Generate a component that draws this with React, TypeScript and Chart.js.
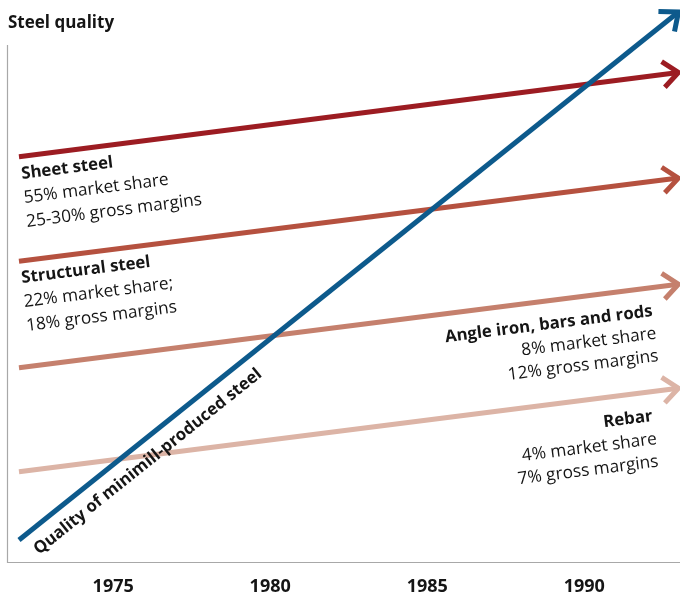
import React, { useEffect, useRef } from "react";
import { Chart, registerables } from "chart.js";

Chart.register(...registerables);

// ---- data ----
const years = [1972, 1993];
const tickYears = [1975, 1980, 1985, 1990];
const minimillQuality = [4.0, 100];
const sheetSteel = [73.7, 89.0];
const structuralSteel = [54.7, 69.8];
const angleIron = [35.3, 50.5];
const rebar = [16.4, 31.6];

const seriesNames = [
  "Quality of minimill-produced steel",
  "Sheet steel",
  "Structural steel",
  "Angle iron, bars and rods",
  "Rebar",
];
const seriesColors = ["#0d5a8c", "#9c1c22", "#b5513f", "#c5806d", "#dcb4a6"];

const sheetNotes = ["55% market share", "25-30% gross margins"];
const structuralNotes = ["22% market share;", "18% gross margins"];
const angleNotes = ["8% market share", "12% gross margins"];
const rebarNotes = ["4% market share", "7% gross margins"];

const titleText = "Steel quality";
const FONT = "'Open Sans', 'Noto Sans', sans-serif";
const TEXT_COLOR = "#151515";
const BOLD_SIZE = 16.8;
const REG_SIZE = 17.3;

type Line = { text: string; x: number; y: number; bold: boolean };

function drawRotated(ctx: CanvasRenderingContext2D, lines: Line[], angle: number, align: CanvasTextAlign) {
  for (const l of lines) {
    ctx.save();
    ctx.translate(l.x, l.y);
    ctx.rotate(angle);
    ctx.font = l.bold ? `bold ${BOLD_SIZE}px ${FONT}` : `${REG_SIZE}px ${FONT}`;
    ctx.fillStyle = TEXT_COLOR;
    ctx.textAlign = align;
    ctx.textBaseline = "alphabetic";
    ctx.fillText(l.text, 0, 0);
    ctx.restore();
  }
}

function lineAngle(chart: any, idx: number) {
  const pts = chart.getDatasetMeta(idx).data;
  const a = pts[0];
  const b = pts[pts.length - 1];
  return Math.atan2(b.y - a.y, b.x - a.x);
}

const axesPlugin = {
  id: "customAxes",
  beforeDatasetsDraw(chart: any) {
    const { ctx, chartArea } = chart;
    ctx.save();
    ctx.strokeStyle = "#a8a8a8";
    ctx.lineWidth = 1.2;
    ctx.beginPath();
    ctx.moveTo(chartArea.left - 0.5, 45);
    ctx.lineTo(chartArea.left - 0.5, chartArea.bottom + 0.5);
    ctx.lineTo(chartArea.right, chartArea.bottom + 0.5);
    ctx.stroke();
    ctx.restore();
  },
};

const arrowPlugin = {
  id: "arrowHeads",
  afterDatasetsDraw(chart: any) {
    const { ctx } = chart;
    const n = chart.data.datasets.length;
    for (let i = n - 1; i >= 0; i--) {
      const pts = chart.getDatasetMeta(i).data;
      const a = pts[pts.length - 2];
      const b = pts[pts.length - 1];
      const ang = Math.atan2(b.y - a.y, b.x - a.x);
      const len = 20;
      const spread = (40 * Math.PI) / 180;
      ctx.save();
      ctx.strokeStyle = chart.data.datasets[i].borderColor;
      ctx.lineWidth = 5;
      ctx.lineJoin = "miter";
      ctx.lineCap = "butt";
      ctx.beginPath();
      ctx.moveTo(b.x - len * Math.cos(ang - spread), b.y - len * Math.sin(ang - spread));
      ctx.lineTo(b.x, b.y);
      ctx.lineTo(b.x - len * Math.cos(ang + spread), b.y - len * Math.sin(ang + spread));
      ctx.stroke();
      ctx.restore();
    }
  },
};

const labelPlugin = {
  id: "textLabels",
  afterDraw(chart: any) {
    const { ctx } = chart;
    ctx.save();
    ctx.font = `bold 17px ${FONT}`;
    ctx.fillStyle = TEXT_COLOR;
    ctx.textAlign = "left";
    ctx.textBaseline = "alphabetic";
    ctx.fillText(titleText, 8, 28);
    ctx.restore();

    drawRotated(ctx, [
      { text: seriesNames[1], x: 22, y: 179, bold: true },
      { text: sheetNotes[0], x: 24.5, y: 203, bold: false },
      { text: sheetNotes[1], x: 27, y: 227, bold: false },
    ], lineAngle(chart, 1), "left");

    drawRotated(ctx, [
      { text: seriesNames[2], x: 22, y: 283, bold: true },
      { text: structuralNotes[0], x: 24.5, y: 307, bold: false },
      { text: structuralNotes[1], x: 27, y: 331, bold: false },
    ], lineAngle(chart, 2), "left");

    drawRotated(ctx, [
      { text: seriesNames[3], x: 653, y: 316, bold: true },
      { text: angleNotes[0], x: 657, y: 338.5, bold: false },
      { text: angleNotes[1], x: 659, y: 361, bold: false },
    ], lineAngle(chart, 3), "right");

    drawRotated(ctx, [
      { text: seriesNames[4], x: 653, y: 421, bold: true },
      { text: rebarNotes[0], x: 657.5, y: 444, bold: false },
      { text: rebarNotes[1], x: 659, y: 466.5, bold: false },
    ], lineAngle(chart, 4), "right");

    drawRotated(ctx, [
      { text: seriesNames[0], x: 39, y: 555, bold: true },
    ], lineAngle(chart, 0), "left");
  },
};

export default function App() {
  const ref = useRef<HTMLCanvasElement | null>(null);

  useEffect(() => {
    document.body.style.margin = "0";
    const canvas = ref.current;
    if (!canvas) return;
    Chart.defaults.font.family = FONT;
    const seriesValues = [minimillQuality, sheetSteel, structuralSteel, angleIron, rebar];
    const chart = new Chart(canvas, {
      type: "line",
      data: {
        datasets: seriesValues.map((vals, i) => ({
          label: seriesNames[i],
          data: vals.map((v, j) => ({ x: years[j], y: v })),
          borderColor: seriesColors[i],
          backgroundColor: seriesColors[i],
          borderWidth: 5,
          pointRadius: 0,
          tension: 0,
          fill: false,
          borderCapStyle: "butt",
        })),
      },
      options: {
        responsive: false,
        animation: false,
        devicePixelRatio: 1,
        layout: { padding: { left: 8, right: 0, top: 12, bottom: 0 } },
        plugins: {
          legend: { display: false },
          tooltip: { enabled: false },
        },
        scales: {
          x: {
            type: "linear",
            min: 1971.65,
            max: 1993.05,
            grid: { display: false, drawTicks: false },
            border: { display: false },
            afterBuildTicks: (axis: any) => {
              axis.ticks = tickYears.map((v) => ({ value: v }));
            },
            afterFit: (axis: any) => {
              axis.height = 32;
            },
            ticks: {
              padding: 14,
              color: TEXT_COLOR,
              font: { size: 18, weight: "bold", family: FONT },
              maxRotation: 0,
              autoSkip: false,
              callback: (v: any) => String(v),
            },
          },
          y: {
            display: false,
            min: 0,
            max: 100,
          },
        },
      },
      plugins: [axesPlugin, arrowPlugin, labelPlugin],
    } as any);
    return () => chart.destroy();
  }, []);

  return (
    <div style={{ width: 680, height: 594 }}>
      <canvas ref={ref} width={680} height={594} style={{ display: "block", width: 680, height: 594 }} />
    </div>
  );
}
